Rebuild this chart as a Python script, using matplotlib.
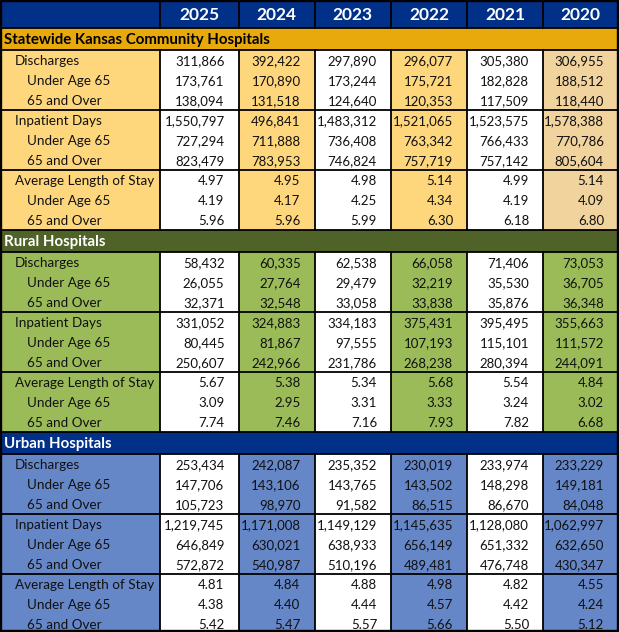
import matplotlib.pyplot as plt
from matplotlib.patches import Rectangle

plt.rcParams['font.family'] = ['Lato', 'DejaVu Sans']

years = ['2025', '2024', '2023', '2022', '2021', '2020']
row_labels = ['Discharges', 'Under Age 65', '65 and Over',
              'Inpatient Days', 'Under Age 65', '65 and Over',
              'Average Length of Stay', 'Under Age 65', '65 and Over']
sections = ['Statewide Kansas Community Hospitals', 'Rural Hospitals', 'Urban Hospitals']

statewide = [
    [311866, 392422, 297890, 296077, 305380, 306955],
    [173761, 170890, 173244, 175721, 182828, 188512],
    [138094, 131518, 124640, 120353, 117509, 118440],
    [1550797, 496841, 1483312, 1521065, 1523575, 1578388],
    [727294, 711888, 736408, 763342, 766433, 770786],
    [823479, 783953, 746824, 757719, 757142, 805604],
    [4.97, 4.95, 4.98, 5.14, 4.99, 5.14],
    [4.19, 4.17, 4.25, 4.34, 4.19, 4.09],
    [5.96, 5.96, 5.99, 6.30, 6.18, 6.80],
]
rural = [
    [58432, 60335, 62538, 66058, 71406, 73053],
    [26055, 27764, 29479, 32219, 35530, 36705],
    [32371, 32548, 33058, 33838, 35876, 36348],
    [331052, 324883, 334183, 375431, 395495, 355663],
    [80445, 81867, 97555, 107193, 115101, 111572],
    [250607, 242966, 231786, 268238, 280394, 244091],
    [5.67, 5.38, 5.34, 5.68, 5.54, 4.84],
    [3.09, 2.95, 3.31, 3.33, 3.24, 3.02],
    [7.74, 7.46, 7.16, 7.93, 7.82, 6.68],
]
urban = [
    [253434, 242087, 235352, 230019, 233974, 233229],
    [147706, 143106, 143765, 143502, 148298, 149181],
    [105723, 98970, 91582, 86515, 86670, 84048],
    [1219745, 1171008, 1149129, 1145635, 1128080, 1062997],
    [646849, 630021, 638933, 656149, 651332, 632650],
    [572872, 540987, 510196, 489481, 476748, 430347],
    [4.81, 4.84, 4.88, 4.98, 4.82, 4.55],
    [4.38, 4.40, 4.44, 4.57, 4.42, 4.24],
    [5.42, 5.47, 5.57, 5.66, 5.50, 5.12],
]
tables = [statewide, rural, urban]

# colours per section: header, light cells, 2020 cells, header text
sec_style = [
    dict(head='#E8A90C', light='#FED67C', last='#F1D39E', txt='black'),
    dict(head='#4F6228', light='#9BBB59', last='#9BBB59', txt='white'),
    dict(head='#013088', light='#6586C7', last='#6586C7', txt='white'),
]
navy = '#013088'

W, H = 619, 632
col_x = [1, 160, 238.5, 314.5, 391, 467, 543, 618]
head_h = 28
sec_h = 22
row_h = 20

fig = plt.figure(figsize=(W / 100, H / 100), dpi=100)
ax = fig.add_axes([0, 0, 1, 1])
ax.set_xlim(0, W)
ax.set_ylim(H, 0)
ax.axis('off')

lw = 1.3


def box(x0, y0, x1, y1, fc):
    ax.add_patch(Rectangle((x0, y0), x1 - x0, y1 - y0, facecolor=fc, edgecolor='none'))


def hline(y, x0=col_x[0], x1=col_x[-1]):
    ax.plot([x0, x1], [y, y], color='black', lw=lw, solid_capstyle='projecting')


def vline(x, y0, y1):
    ax.plot([x, x], [y0, y1], color='black', lw=lw, solid_capstyle='projecting')


# header row
box(col_x[0], 0, col_x[-1], head_h, navy)
for j, yr in enumerate(years):
    ax.text((col_x[j + 1] + col_x[j + 2]) / 2, head_h / 2 + 1, yr, color='white',
            fontsize=12.5, fontweight='bold', ha='center', va='center')
for x in col_x[1:-1]:
    vline(x, 0, head_h)
hline(head_h)

y = head_h
for s, name in enumerate(sections):
    st = sec_style[s]
    box(col_x[0], y, col_x[-1], y + sec_h, st['head'])
    ax.text(4, y + sec_h / 2 + 1, name, color=st['txt'], fontsize=10.8,
            fontweight='bold', ha='left', va='center')
    y += sec_h
    hline(y)
    top = y
    data = tables[s]
    for i, lab in enumerate(row_labels):
        r0 = y + i * row_h
        box(col_x[0], r0, col_x[1], r0 + row_h, st['light'])
        indent = 15 if i % 3 == 0 else 27
        ax.text(indent, r0 + row_h / 2 + 1, lab, fontsize=9.7, color='#111111',
                ha='left', va='center')
        for j, v in enumerate(data[i]):
            if j % 2 == 0:
                fc = 'white'
            elif j == 5:
                fc = st['last']
            else:
                fc = st['light']
            box(col_x[j + 1], r0, col_x[j + 2], r0 + row_h, fc)
            txt = f'{v:.2f}' if isinstance(v, float) else f'{v:,}'
            ax.text(col_x[j + 2] - 14, r0 + row_h / 2 + 1, txt, fontsize=9.5,
                    color='#111111', ha='right', va='center')
    for g in range(1, 4):
        hline(y + g * 3 * row_h)
    for x in col_x[1:-1]:
        vline(x, top, y + 9 * row_h)
    y += 9 * row_h

# outer border
ax.add_patch(Rectangle((col_x[0], 0.5), col_x[-1] - col_x[0], H - 1.5,
                       facecolor='none', edgecolor='black', lw=lw * 1.3))

fig.savefig('out.png', dpi=100)
